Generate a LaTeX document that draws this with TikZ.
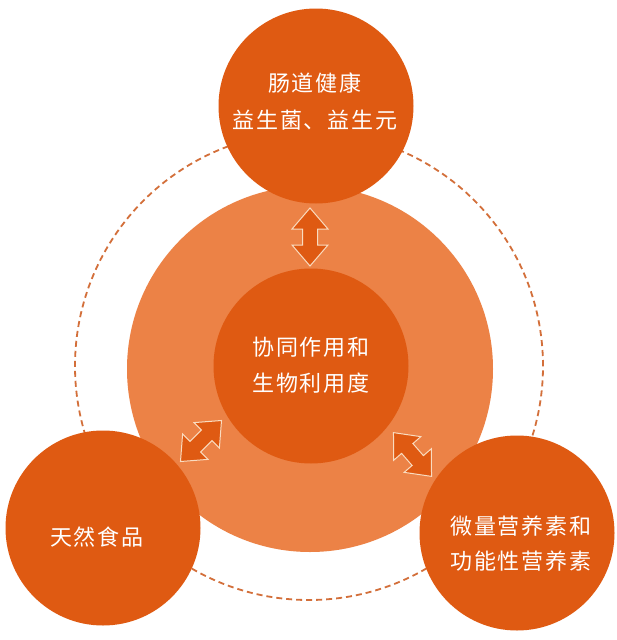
\documentclass[tikz,border=0pt]{standalone}
\usepackage{fontspec}
\newfontfamily\cjk{Noto Sans CJK SC}[LetterSpace=9]
\definecolor{darkor}{HTML}{DF5A12}
\definecolor{lightor}{HTML}{EC8246}
\definecolor{ringor}{HTML}{D36F3A}
\definecolor{edgecream}{HTML}{F9DCC0}
\tikzset{
  bigdisc/.style={circle,fill=lightor,minimum size=366pt,inner sep=0pt},
  disc/.style={circle,fill=darkor,minimum size=195pt,inner sep=0pt},
  ring/.style={draw=ringor,line width=1.8pt,dash pattern=on 6pt off 4pt},
  txt/.style={text=white,align=center,inner sep=0pt,font=\cjk\fontsize{22}{37}\selectfont},
  dblarr/.pic={\path[fill=darkor,draw=edgecream,line width=1pt,line join=miter]
    (-29,0) -- (-8,18) -- (-8,7.5) -- (8,7.5) -- (8,18) -- (29,0)
    -- (8,-18) -- (8,-7.5) -- (-8,-7.5) -- (-8,-18) -- cycle;}
}
\begin{document}
\begin{tikzpicture}[x=1pt,y=-1pt]
\useasboundingbox[fill=white] (0,0) rectangle (617,640);
\coordinate (ringc) at (309,366);
\draw[ring] (ringc) circle (234pt);
\node[bigdisc] (big) at (310,369) {};
\node[disc] (core) at (311,366) {};
\node[disc] (gut) at (316,106) {};
\node[disc] (food) at (103,528) {};
\node[disc] (micro) at (517,533) {};
\node[txt] (guttxt) at (315,101.5) {肠道健康\\益生菌、益生元};
\node[txt,font=\cjk\fontsize{22}{36}\selectfont] (coretxt) at (311,365) {协同作用和\\生物利用度};
\node[txt] (foodtxt) at (97,537) {天然食品};
\node[txt,font=\cjk\fontsize{22}{35}\selectfont] (microtxt) at (521,543.5) {微量营养素和\\功能性营养素};
\pic[rotate=90] at (310,237) {dblarr};
\pic[rotate=45] at (201,441) {dblarr};
\pic[rotate=-49] at (412.5,454.5) {dblarr};
\end{tikzpicture}
\end{document}
